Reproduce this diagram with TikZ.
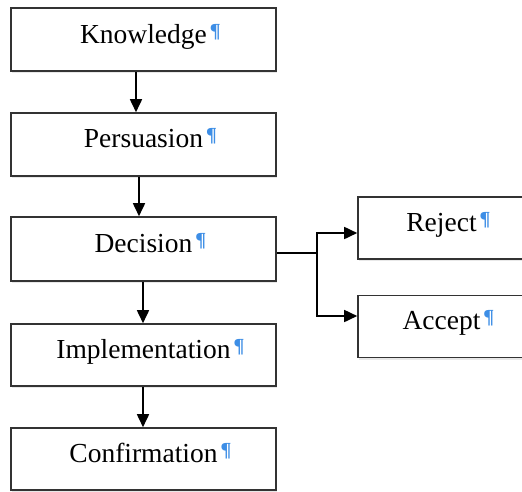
\documentclass[tikz,border=0pt]{standalone}
\usepackage{fontspec}
\setmainfont{Liberation Serif}
\usetikzlibrary{arrows.meta,shadows}
\definecolor{pilcrow}{HTML}{3D8EE6}
\definecolor{frame}{HTML}{333333}
% blue paragraph mark after a label, taking no width so the word stays centred
\newcommand{\pmark}{\rlap{\hspace{3pt}\raisebox{6pt}{\fontsize{20}{20}\selectfont\bfseries\color{pilcrow}¶}}}
\tikzset{
  stage/.style={draw=frame, line width=1.6pt, fill=white, rectangle,
    minimum width=265pt, minimum height=63pt, inner sep=0pt,
    drop shadow={opacity=0.18, shadow xshift=1pt, shadow yshift=-2pt}},
  outcome/.style={stage, minimum width=167pt, minimum height=62pt},
  lbl/.style={font=\fontsize{27.5}{27.5}\selectfont, inner sep=0pt, anchor=base},
  arr/.style={line width=1.7pt, -{Triangle[length=13pt,width=12pt]}},
  link/.style={line width=1.7pt}
}
\begin{document}
\begin{tikzpicture}[x=1pt,y=-1pt]
  \useasboundingbox (0,0) rectangle (522,491);
  \begin{scope}
  \clip (0,0) rectangle (522,491);

  % main stages
  \node[stage] (k) at (143.5,39.5) {};
  \node[stage] (p) at (143.5,144.5) {};
  \node[stage, minimum height=64pt] (d) at (143.5,249) {};
  \node[stage, minimum height=62pt] (i) at (143.5,355) {};
  \node[stage, minimum height=62pt] (c) at (143.5,459) {};

  % outcomes of the decision
  \node[outcome] (r) at (441.5,228) {};
  \node[outcome] (a) at (441.5,326.5) {};

  % labels
  \node[lbl] (kt) at ([yshift=-36pt]k.north) {Knowledge\pmark};
  \node[lbl] (pt) at ([yshift=-35pt]p.north) {Persuasion\pmark};
  \node[lbl] (dt) at ([yshift=-36pt]d.north) {Decision\pmark};
  \node[lbl] (it) at ([yshift=-35pt]i.north) {Implementation\pmark};
  \node[lbl] (ct) at ([yshift=-35pt]c.north) {Confirmation\pmark};
  \node[lbl] (rt) at ([yshift=-35pt]r.north) {Reject\pmark};
  \node[lbl] (at) at ([yshift=-35pt]a.north) {Accept\pmark};

  % vertical flow
  \draw[arr] ([xshift=-7.5pt]k.south) -- ([xshift=-7.5pt]p.north);
  \draw[arr] ([xshift=-4.5pt]p.south) -- ([xshift=-4.5pt]p.south |- d.north);
  \draw[arr] ([xshift=-0.5pt]d.south) -- ([xshift=-0.5pt]i.north);
  \draw[arr] ([xshift=-0.5pt]i.south) -- ([xshift=-0.5pt]c.north);

  % branch from the decision
  \coordinate (j) at (317,253);
  \draw[link] (d.east |- j) -- (j);
  \draw[arr] (j) |- ([yshift=-5pt]r.west);
  \draw[arr] (j) |- ([yshift=10.5pt]a.west);
  \end{scope}
\end{tikzpicture}
\end{document}
